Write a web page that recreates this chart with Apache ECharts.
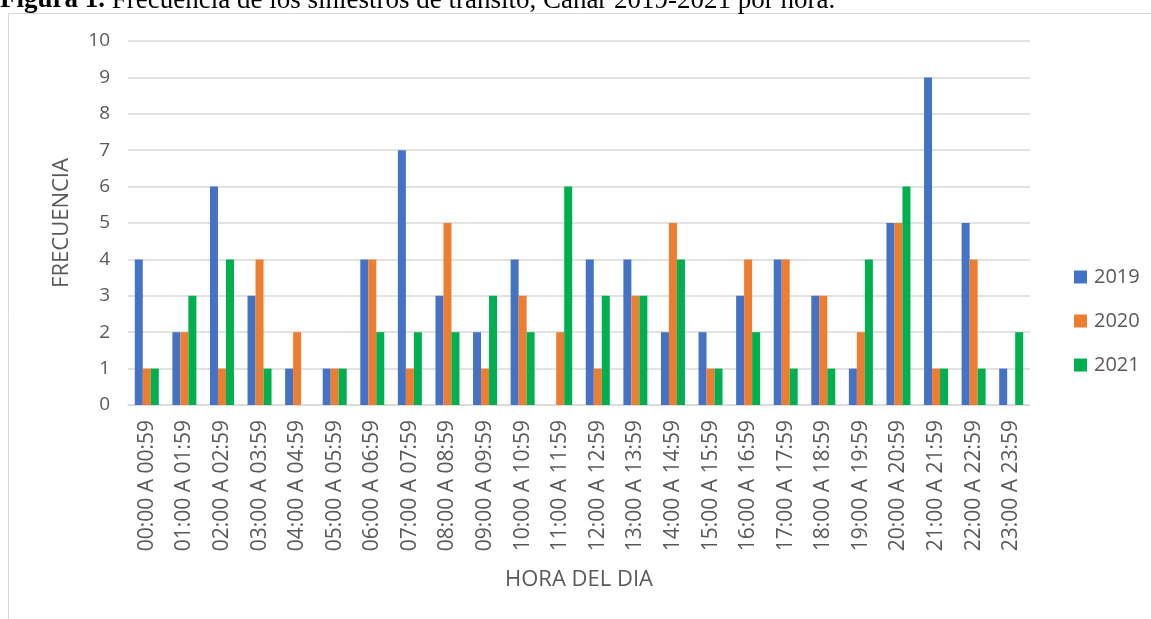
<!DOCTYPE html>
<html>
<head>
<meta charset="utf-8">
<script src="https://cdn.jsdelivr.net/npm/echarts@6/dist/echarts.min.js"></script>
<style>
html,body{margin:0;padding:0;background:#fff;}
#c{width:1151px;height:619px;}
</style>
</head>
<body>
<div id="c"></div>
<script>
const categories = ["00:00 A 00:59","01:00 A 01:59","02:00 A 02:59","03:00 A 03:59","04:00 A 04:59","05:00 A 05:59","06:00 A 06:59","07:00 A 07:59","08:00 A 08:59","09:00 A 09:59","10:00 A 10:59","11:00 A 11:59","12:00 A 12:59","13:00 A 13:59","14:00 A 14:59","15:00 A 15:59","16:00 A 16:59","17:00 A 17:59","18:00 A 18:59","19:00 A 19:59","20:00 A 20:59","21:00 A 21:59","22:00 A 22:59","23:00 A 23:59"];
const seriesNames = ["2019","2020","2021"];
const values2019 = [4,2,6,3,1,1,4,7,3,2,4,0,4,4,2,2,3,4,3,1,5,9,5,1];
const values2020 = [1,2,1,4,2,1,4,1,5,1,3,2,1,3,5,1,4,4,3,2,5,1,4,0];
const values2021 = [1,3,4,1,0,1,2,2,2,3,2,6,3,3,4,1,2,1,1,4,6,1,1,2];
const colors = ["#4472C4","#ED7D31","#00B050"];
const titleBold = "Figura 1.";
const titleRest = " Frecuencia de los siniestros de tránsito, Cañar 2019-2021 por hora.";
const yName = "FRECUENCIA";
const xName = "HORA DEL DIA";

const chart = echarts.init(document.getElementById('c'), null, {renderer:'canvas'});
const font = "'Open Sans', sans-serif";
const allValues = [values2019, values2020, values2021];
chart.setOption({
  animation:false,
  backgroundColor:'#fff',
  title:{
    text:'{b|' + titleBold + '}{r|' + titleRest + '}',
    left:0, top:-13, padding:0,
    textStyle:{fontWeight:'normal', rich:{
      b:{fontFamily:"'Liberation Serif', serif", fontWeight:'bold', fontSize:27, color:'#000'},
      r:{fontFamily:"'Liberation Serif', serif", fontWeight:'normal', fontSize:27, color:'#000'}
    }}
  },
  graphic:[{type:'rect', shape:{x:8.5,y:13.5,width:1200,height:700}, style:{fill:null, stroke:'#d9d9d9', lineWidth:1}, z:-1}],
  grid:{left:128, right:121, top:41, bottom:214, containLabel:false},
  legend:{
    orient:'vertical', left:1069, top:262, itemWidth:13, itemHeight:13, itemGap:24,
    icon:'rect',
    textStyle:{fontFamily:font, fontSize:20, color:'#595959', padding:[0,0,0,2]},
    data:seriesNames
  },
  xAxis:{
    type:'category', data:categories,
    name:xName, nameLocation:'middle', nameGap:164,
    nameTextStyle:{fontFamily:font, fontSize:22, color:'#595959'},
    axisLine:{lineStyle:{color:'#d9d9d9', width:1.5}},
    axisTick:{show:false},
    axisLabel:{rotate:90, interval:0, margin:15, fontFamily:font, fontSize:21, color:'#595959'}
  },
  yAxis:{
    type:'value', min:0, max:10, interval:1,
    name:yName, nameLocation:'middle', nameGap:55,
    nameTextStyle:{fontFamily:font, fontSize:22, color:'#595959'},
    axisLine:{show:false}, axisTick:{show:false},
    axisLabel:{margin:18, fontFamily:font, fontSize:19, color:'#595959'},
    splitLine:{lineStyle:{color:'#d9d9d9', width:1.5}}
  },
  series: seriesNames.map((n,i)=>({
    name:n, type:'bar', data:allValues[i], barWidth:8, barGap:'0%',
    itemStyle:{color:colors[i]}
  }))
});
</script>
</body>
</html>
